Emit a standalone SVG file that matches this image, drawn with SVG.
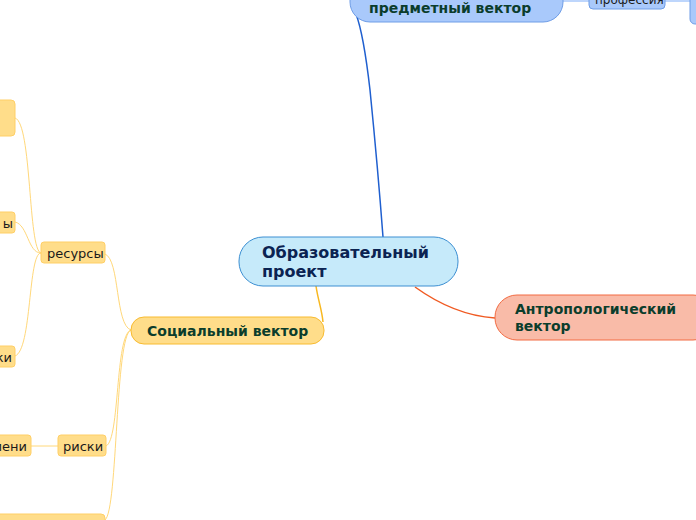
<svg xmlns="http://www.w3.org/2000/svg" width="696" height="520" viewBox="0 0 696 520">
<style>
.t{font-family:"DejaVu Sans","Verdana",sans-serif}
.b{font-weight:bold;font-size:14px;fill:#0b3d2c}
.s{font-size:13px;fill:#1a1a1a}
.y{fill:#ffdd8a;stroke:#ffcf66;stroke-width:1}
.bl{fill:#a9c9fb;stroke:#6f9de6;stroke-width:1}
.cy{fill:none;stroke:#ffd87a;stroke-width:1}
</style>
<rect width="696" height="520" fill="#ffffff"/>
<g id="connectors" fill="none">
<path d="M383,237 C378,170 373,120 370,90 C366,55 362,30 356,14" stroke="#1f5fcf" stroke-width="1.5"/>
<path d="M563,1 L589,1" stroke="#a9c9fb" stroke-width="1.5"/>
<path d="M665,1 L690,1" stroke="#a9c9fb" stroke-width="1.5"/>
<path d="M415,287 C440,305 465,316 495,318" stroke="#f05a22" stroke-width="1.5"/>
<path d="M316,286 C318,300 322,310 323,322" stroke="#f8b820" stroke-width="1.5"/>
<path class="cy" d="M131,330 C115,325 120,260 105,254"/>
<path class="cy" d="M131,330 C115,335 120,440 106,446"/>
<path class="cy" d="M131,330 C115,335 118,510 105,520"/>
<path class="cy" d="M41,253 C28,250 32,123 15,118"/>
<path class="cy" d="M41,253 C28,253 28,225 15,222"/>
<path class="cy" d="M41,253 C28,253 32,350 15,356"/>
<path class="cy" d="M31,446 L58,446"/>
</g>
<g id="node-center">
<rect x="239" y="237" width="219" height="49" rx="24" fill="#c6eafa" stroke="#3c8fd2" stroke-width="1"/>
<text class="t" x="262" y="258" font-size="16" font-weight="bold" fill="#0b2352">Образовательный</text>
<text class="t" x="262" y="277" font-size="16" font-weight="bold" fill="#0b2352">проект</text>
</g>
<g id="node-predmet">
<rect class="bl" x="350" y="-30" width="213" height="52" rx="20" stroke="#3a74d6"/>
<text class="t b" x="369" y="13">предметный вектор</text>
</g>
<g id="node-profession">
<rect class="bl" x="589" y="-14" width="76" height="23" rx="4"/>
<text class="t" x="595" y="4" font-size="12" fill="#1a1a1a">профессия</text>
</g>
<g id="node-right">
<rect class="bl" x="690" y="-30" width="30" height="54" rx="5"/>
</g>
<g id="node-anthro">
<rect x="495" y="295" width="220" height="45" rx="22" fill="#f9bba8" stroke="#f26b42" stroke-width="1"/>
<text class="t b" x="515" y="314">Антропологический</text>
<text class="t b" x="515" y="331">вектор</text>
</g>
<g id="node-social">
<rect x="131" y="317" width="193" height="27" rx="13" fill="#ffdd8a" stroke="#f8bb30" stroke-width="1"/>
<text class="t b" x="147" y="336">Социальный вектор</text>
</g>
<g id="node-resources">
<rect class="y" x="41" y="242" width="64" height="21" rx="3"/>
<text class="t s" x="47" y="258">ресурсы</text>
</g>
<g id="node-res1">
<rect class="y" x="-20" y="100" width="35" height="36" rx="4"/>
</g>
<g id="node-res2">
<rect class="y" x="-20" y="212" width="35" height="21" rx="3"/>
<text class="t s" x="13" y="228" text-anchor="end">ы</text>
</g>
<g id="node-res3">
<rect class="y" x="-20" y="346" width="35" height="21" rx="3"/>
<text class="t s" x="12" y="362" text-anchor="end">ки</text>
</g>
<g id="node-risks">
<rect class="y" x="58" y="435" width="48" height="21" rx="3"/>
<text class="t s" x="63" y="451">риски</text>
</g>
<g id="node-risk1">
<rect class="y" x="-20" y="435" width="51" height="21" rx="3"/>
<text class="t s" x="27" y="451" text-anchor="end">мени</text>
</g>
<g id="node-bottom">
<rect class="y" x="-20" y="514" width="125" height="30" rx="4"/>
</g>
</svg>
